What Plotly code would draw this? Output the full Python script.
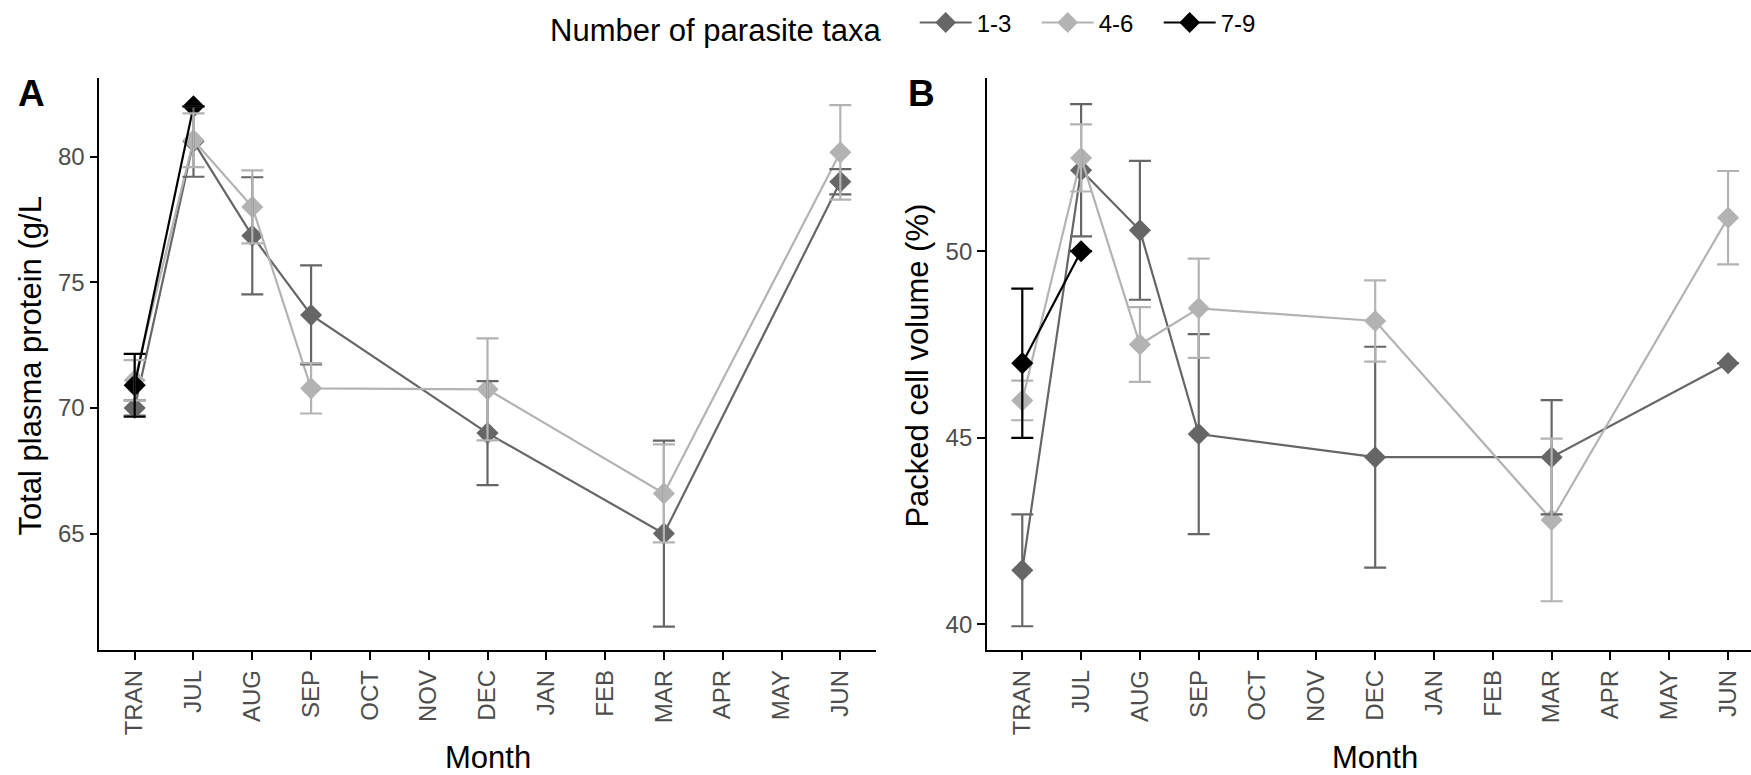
import plotly.graph_objects as go

# Category axis (sampling occasions)
months = ["TRAN", "JUL", "AUG", "SEP", "OCT", "NOV", "DEC",
          "JAN", "FEB", "MAR", "APR", "MAY", "JUN"]
sampled = ["TRAN", "JUL", "AUG", "SEP", "DEC", "MAR", "JUN"]
sampled_79 = ["TRAN", "JUL"]

groups = ["1-3", "4-6", "7-9"]
group_colors = ["#666666", "#B3B3B3", "#000000"]

# Total plasma protein (g/L): mean and standard error
tpp_13 = [70.0, 80.6, 76.85, 73.7, 69.0, 65.0, 79.0]
tpp_13_se = [0.3, 1.4, 2.33, 1.97, 2.07, 3.7, 0.5]
tpp_46 = [71.1, 80.65, 78.0, 70.78, 70.74, 66.6, 80.17]
tpp_46_se = [0.8, 1.07, 1.45, 1.0, 2.03, 1.95, 1.88]
tpp_79 = [70.9, 82.0]
tpp_79_se = [1.25, None]

# Packed cell volume (%): mean and standard error
pcv_13 = [41.45, 52.17, 50.56, 45.1, 44.48, 44.48, 47.0]
pcv_13_se = [1.5, 1.77, 1.86, 2.68, 2.96, 1.53, None]
pcv_46 = [46.0, 52.5, 47.5, 48.47, 48.13, 42.8, 50.9]
pcv_46_se = [0.53, 0.9, 1.0, 1.33, 1.09, 2.18, 1.25]
pcv_79 = [47.0, 50.0]
pcv_79_se = [2.0, None]

W, H = 1751, 775
FONT = "Liberation Sans, Arial, sans-serif"
TICK_GREY = "#4D4D4D"

panels = [
    dict(xa="x", ya="y",
         series=[(sampled, tpp_13, tpp_13_se), (sampled, tpp_46, tpp_46_se),
                 (sampled_79, tpp_79, tpp_79_se)]),
    dict(xa="x2", ya="y2",
         series=[(sampled, pcv_13, pcv_13_se), (sampled, pcv_46, pcv_46_se),
                 (sampled_79, pcv_79, pcv_79_se)]),
]

fig = go.Figure()

# lines and diamond points
for p_i, panel in enumerate(panels):
    for g_i, (xs, ys, _) in enumerate(panel["series"]):
        fig.add_trace(go.Scatter(
            x=xs, y=ys, xaxis=panel["xa"], yaxis=panel["ya"],
            mode="lines+markers", name=groups[g_i],
            legendgroup=groups[g_i], showlegend=(p_i == 0),
            line=dict(color=group_colors[g_i], width=2.2),
            marker=dict(symbol="diamond", size=17, color=group_colors[g_i]),
        ))

# error bars drawn above the points
for panel in panels:
    for g_i, (xs, ys, se) in enumerate(panel["series"]):
        fig.add_trace(go.Scatter(
            x=xs, y=ys, xaxis=panel["xa"], yaxis=panel["ya"],
            mode="markers", showlegend=False, hoverinfo="skip",
            marker=dict(size=1, color="rgba(0,0,0,0)"),
            error_y=dict(type="data", array=se, visible=True,
                         color=group_colors[g_i], thickness=2.2, width=11),
        ))

y0 = (H - 650) / H
y1 = (H - 75) / H
a_left, a_right = 99.4 / W, 875.6 / W
b_left = 987 / W

xaxis_common = dict(
    type="category", categoryorder="array", categoryarray=months,
    tickmode="array", tickvals=months, ticktext=months,
    showline=True, linecolor="black", linewidth=1.8,
    ticks="outside", ticklen=8, tickwidth=1.8, tickcolor="black",
    tickangle=-90, tickfont=dict(family=FONT, size=24, color=TICK_GREY),
    showgrid=False, zeroline=False,
)
yaxis_common = dict(
    showline=True, linecolor="black", linewidth=1.8,
    ticks="outside", ticklen=8, tickwidth=1.8, tickcolor="black",
    tickfont=dict(family=FONT, size=24, color=TICK_GREY),
    showgrid=False, zeroline=False,
)

fig.update_layout(
    width=W, height=H,
    margin=dict(l=0, r=0, t=0, b=0),
    paper_bgcolor="white", plot_bgcolor="white",
    font=dict(family=FONT, color="black"),
    xaxis=dict(domain=[a_left, a_right], anchor="y",
               range=[-0.6, 12.6], **xaxis_common),
    yaxis=dict(domain=[y0, y1], anchor="x", range=[60.35, 83.14],
               tickvals=[65, 70, 75, 80], **yaxis_common),
    xaxis2=dict(domain=[b_left, 1.0], anchor="y2",
                range=[-0.6, 12.39], **xaxis_common),
    yaxis2=dict(domain=[y0, y1], anchor="x2", range=[39.3, 54.65],
                tickvals=[40, 45, 50], **yaxis_common),
    legend=dict(
        orientation="h", x=548 / W, xanchor="left",
        y=1 - 23 / H, yanchor="middle",
        title=dict(text="Number of parasite taxa\u00a0\u00a0\u00a0", side="left",
                   font=dict(family=FONT, size=31, color="black")),
        font=dict(family=FONT, size=24, color="black"),
        itemwidth=52, entrywidth=55, bgcolor="rgba(0,0,0,0)",
    ),
    showlegend=True,
)

annotations = [
    dict(text="<b>A</b>", x=31.5 / W, y=1 - 91 / H, font=dict(size=37)),
    dict(text="<b>B</b>", x=921 / W, y=1 - 91 / H, font=dict(size=37)),
    dict(text="Total plasma protein (g/L", x=31 / W, y=1 - 365 / H,
         textangle=-90, font=dict(size=31)),
    dict(text="Packed cell volume (%)", x=918 / W, y=1 - 364 / H,
         textangle=-90, font=dict(size=31)),
    dict(text="Month", x=487.5 / W, y=1 - 757 / H, font=dict(size=31)),
    dict(text="Month", x=1375 / W, y=1 - 757 / H, font=dict(size=31)),
]
for a in annotations:
    a.update(xref="paper", yref="paper", xanchor="center", yanchor="middle",
             showarrow=False)
    a["font"].update(family=FONT, color="black")
fig.update_layout(annotations=annotations)

fig.write_html("out.html")
